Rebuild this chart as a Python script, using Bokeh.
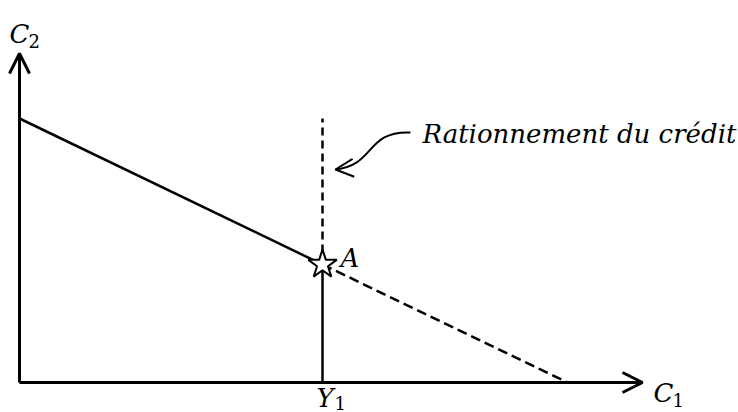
from bokeh.plotting import figure
from bokeh.models import Range1d, Arrow, OpenHead
from bokeh.core.properties import value
from bokeh.embed import file_html
from bokeh.resources import INLINE

# ---- data (arbitrary units of the diagram) ----
axis_max = [623, 329]          # C1 axis length, C2 axis length
y1_income = [303]              # Y1 (current income)
budget_intercepts = [548, 264] # C1 intercept, C2 intercept
axis_labels = ["C", "C"]
axis_subs = ["1", "2"]
point_label = ["A"]
income_label = ["Y", "1"]
note_text = ["Rationnement du crédit"]

c1_int, c2_int = budget_intercepts
Y1 = y1_income[0]
A_y = c2_int * (1 - Y1 / c1_int)

p = figure(width=738, height=412, output_backend="svg", toolbar_location=None,
           x_range=Range1d(-19, 719), y_range=Range1d(-30, 382),
           min_border=0, outline_line_color=None)
p.axis.visible = False
p.grid.visible = False

FONT = value("DejaVu Serif")
K = "black"

# axes with open arrow heads
p.add_layout(Arrow(end=OpenHead(size=20, line_width=3, line_color=K),
                   x_start=0, y_start=0, x_end=axis_max[0], y_end=0,
                   line_width=3, line_color=K))
p.add_layout(Arrow(end=OpenHead(size=20, line_width=3, line_color=K),
                   x_start=0, y_start=0, x_end=0, y_end=axis_max[1],
                   line_width=3, line_color=K))

# budget line (solid up to A, dashed beyond)
p.line([0, Y1], [c2_int, A_y], line_width=2.5, line_color=K)
p.line([Y1, c1_int], [A_y, 0], line_width=2.5, line_color=K, line_dash="10 5")
# credit rationing vertical at Y1
p.line([Y1, Y1], [0, A_y], line_width=2.5, line_color=K)
p.line([Y1, Y1], [A_y + 12, c2_int], line_width=2.5, line_color=K, line_dash="8 5")

# point A star
p.scatter([Y1], [A_y], marker="star", size=30, fill_color="white",
          line_color=K, line_width=2)

BIG = "26px"
SUB = "18px"
# labels
p.text(x=[axis_max[0] + 11], y=[-10], text=[axis_labels[0]], text_font=FONT,
       text_font_style="italic", text_font_size=BIG, text_color=K,
       text_baseline="alphabetic", text_align="left")
p.text(x=[axis_max[0] + 30], y=[-17], text=[axis_subs[0]], text_font=FONT,
       text_font_size=SUB, text_color=K, text_baseline="alphabetic")
p.text(x=[-10], y=[349], text=[axis_labels[1]], text_font=FONT,
       text_font_style="italic", text_font_size=BIG, text_color=K,
       text_baseline="alphabetic")
p.text(x=[9], y=[342], text=[axis_subs[1]], text_font=FONT,
       text_font_size=SUB, text_color=K, text_baseline="alphabetic")
p.text(x=[Y1 + 18], y=[A_y + 6], text=point_label, text_font=FONT,
       text_font_style="italic", text_font_size=BIG, text_color=K,
       text_baseline="alphabetic")
p.text(x=[Y1 - 6], y=[-15], text=[income_label[0]], text_font=FONT,
       text_font_style="italic", text_font_size=BIG, text_color=K,
       text_baseline="alphabetic")
p.text(x=[Y1 + 12], y=[-20], text=[income_label[1]], text_font=FONT,
       text_font_size=SUB, text_color=K, text_baseline="alphabetic")
p.text(x=[403], y=[249], text=note_text, text_font=FONT,
       text_font_style="italic", text_font_size="26px", text_color=K,
       text_baseline="alphabetic")

# curly pointer arrow
p.bezier(x0=[391], y0=[250], x1=[316], y1=[213], cx0=[346], cy0=[252],
         cx1=[356], cy1=[217], line_width=2, line_color=K)
p.add_layout(Arrow(end=OpenHead(size=18, line_width=2, line_color=K),
                   x_start=332, y_start=214.5, x_end=316, y_end=213,
                   line_alpha=0))

open("out.html", "w").write(file_html(p, INLINE))
